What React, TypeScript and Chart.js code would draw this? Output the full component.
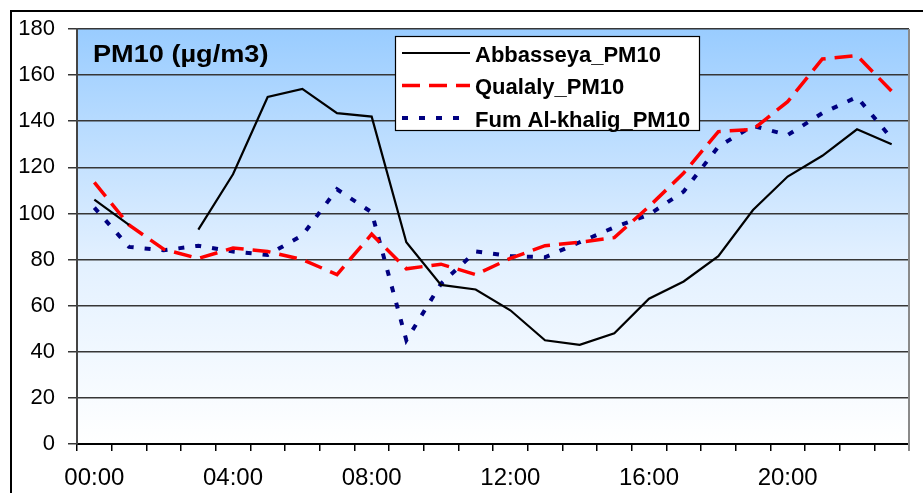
import { useEffect, useRef } from "react";
import { Chart, registerables } from "chart.js";

Chart.register(...registerables);

// Hourly PM10 concentrations (µg/m3) at three monitoring stations
const hours = [
  "00:00", "01:00", "02:00", "03:00", "04:00", "05:00", "06:00", "07:00",
  "08:00", "09:00", "10:00", "11:00", "12:00", "13:00", "14:00", "15:00",
  "16:00", "17:00", "18:00", "19:00", "20:00", "21:00", "22:00", "23:00",
];

const abbasseya = [
  106, 95, null, 93, 117, 150.5, 154, 143.5, 142, 87.5, 69, 67,
  58, 45, 43, 48, 63, 70.5, 81.5, 101.5, 116, 125, 136.5, 130,
];

const qualaly = [
  113.5, 95, 84.5, 80.5, 85, 83.5, 80, 73.5, 91, 76, 78, 73.5,
  80.5, 86, 87.5, 89.5, 103, 117.5, 135.5, 136.5, 148.5, 167, 168.5, 153,
];

const fumAlKhalig = [
  102.5, 85.5, 84, 86, 83.5, 82, 90.5, 110.5, 100.5, 45, 69.5, 83.5,
  81.5, 81, 87.5, 94, 99.5, 109.5, 129, 138, 134, 143.5, 150.5, 132.5,
];

const seriesNames = ["Abbasseya_PM10", "Qualaly_PM10", "Fum Al-khalig_PM10"];
const yTicks = { min: 0, max: 180, step: 20 };
const chartTitle = "PM10 (µg/m3)";

const FONT = "'Liberation Sans', Arial, Helvetica, sans-serif";

// Sky-blue to white backdrop behind the plot
const backdropPlugin = {
  id: "backdrop",
  beforeDraw(chart: any) {
    const { ctx, chartArea } = chart;
    const { left, top, right, bottom } = chartArea;
    const g = ctx.createLinearGradient(0, top, 0, bottom);
    g.addColorStop(0, "#99CCFF");
    g.addColorStop(0.55, "#E2F0FF");
    g.addColorStop(1, "#FFFFFF");
    ctx.save();
    ctx.fillStyle = g;
    ctx.fillRect(left, top, right - left, bottom - top);
    ctx.restore();
  },
  beforeDatasetsDraw(chart: any) {
    const { ctx, chartArea } = chart;
    ctx.save();
    ctx.strokeStyle = "#8A8A8A";
    ctx.lineWidth = 2;
    ctx.beginPath();
    ctx.moveTo(chartArea.right, chartArea.top);
    ctx.lineTo(chartArea.right, chartArea.bottom + 7);
    ctx.stroke();
    ctx.restore();
  },
};

// Title, boxed legend and outer frame
const overlayPlugin = {
  id: "overlay",
  afterDraw(chart: any) {
    const { ctx, chartArea } = chart;
    ctx.save();

    // outer frame (top and left edges)
    ctx.strokeStyle = "#000";
    ctx.lineWidth = 2;
    ctx.beginPath();
    ctx.moveTo(11, chart.height);
    ctx.lineTo(11, 11);
    ctx.lineTo(chart.width, 11);
    ctx.stroke();

    // title, slightly widened
    ctx.fillStyle = "#000";
    ctx.font = `bold 23px ${FONT}`;
    ctx.textBaseline = "alphabetic";
    ctx.textAlign = "left";
    ctx.save();
    ctx.translate(chartArea.left + 16, 62);
    ctx.scale(1.18, 1);
    ctx.fillText(chartTitle, 0, 0);
    ctx.restore();

    // legend box
    const bx = 395, by = 36, bw = 304, bh = 94;
    ctx.fillStyle = "#fff";
    ctx.fillRect(bx, by, bw, bh);
    ctx.strokeStyle = "#000";
    ctx.lineWidth = 1.2;
    ctx.strokeRect(bx + 0.5, by + 0.5, bw, bh);

    const rows = [53, 85.5, 118];
    chart.data.datasets.forEach((ds: any, i: number) => {
      const y = rows[i];
      ctx.save();
      ctx.strokeStyle = ds.borderColor;
      ctx.lineWidth = ds.borderWidth;
      ctx.setLineDash(ds.borderDash || []);
      ctx.lineCap = "butt";
      ctx.beginPath();
      ctx.moveTo(402, y);
      ctx.lineTo(470, y);
      ctx.stroke();
      ctx.restore();
      ctx.fillStyle = "#000";
      ctx.font = `bold 22px ${FONT}`;
      ctx.textBaseline = "alphabetic";
      ctx.fillText(ds.label, 475, y + 8.5);
    });

    ctx.restore();
  },
};

export default function App() {
  const ref = useRef<HTMLCanvasElement>(null);

  useEffect(() => {
    if (!ref.current) return;
    const chart = new Chart(ref.current, {
      type: "line",
      data: {
        labels: hours,
        datasets: [
          {
            label: seriesNames[0],
            data: abbasseya,
            borderColor: "#000000",
            borderWidth: 2.2,
            borderDash: [],
            spanGaps: false,
          },
          {
            label: seriesNames[1],
            data: qualaly,
            borderColor: "#FF0000",
            borderWidth: 3.5,
            borderDash: [18, 9],
          },
          {
            label: seriesNames[2],
            data: fumAlKhalig,
            borderColor: "#000080",
            borderWidth: 4,
            borderDash: [6, 11],
          },
        ],
      },
      options: {
        responsive: false,
        animation: false,
        devicePixelRatio: 1,
        layout: { padding: { left: 0, top: 29, right: 14, bottom: 0 } },
        elements: {
          point: { radius: 0, hoverRadius: 0 },
          line: { tension: 0, fill: false, borderCapStyle: "butt", borderJoinStyle: "miter" },
        },
        plugins: {
          legend: { display: false },
          tooltip: { enabled: false },
          title: { display: false },
        },
        scales: {
          x: {
            type: "category",
            offset: true,
            afterFit(scale: any) {
              scale.height = 49;
            },
            grid: {
              offset: true,
              drawOnChartArea: false,
              drawTicks: true,
              tickLength: 7,
              color: "#000",
              lineWidth: 1.5,
            },
            border: { display: true, color: "#000", width: 2 },
            ticks: {
              autoSkip: false,
              maxRotation: 0,
              minRotation: 0,
              padding: 13,
              color: "#000",
              font: { family: FONT, size: 24 },
              callback: (_v: any, i: number) => (i % 4 === 0 ? hours[i] : ""),
            },
          },
          y: {
            min: yTicks.min,
            max: yTicks.max,
            afterFit(scale: any) {
              scale.width = 77;
            },
            grid: {
              color: "#363636",
              lineWidth: 1.5,
              drawTicks: true,
              tickLength: 9,
            },
            border: { display: true, color: "#444", width: 2 },
            ticks: {
              stepSize: yTicks.step,
              padding: 13,
              color: "#000",
              font: { family: FONT, size: 22 },
            },
          },
        },
      },
      plugins: [backdropPlugin, overlayPlugin],
    } as any);
    return () => chart.destroy();
  }, []);

  return (
    <div
      style={{
        position: "absolute",
        left: 0,
        top: 0,
        width: 923,
        height: 493,
        background: "#fff",
      }}
    >
      <canvas ref={ref} width={923} height={493} style={{ display: "block" }} />
    </div>
  );
}
